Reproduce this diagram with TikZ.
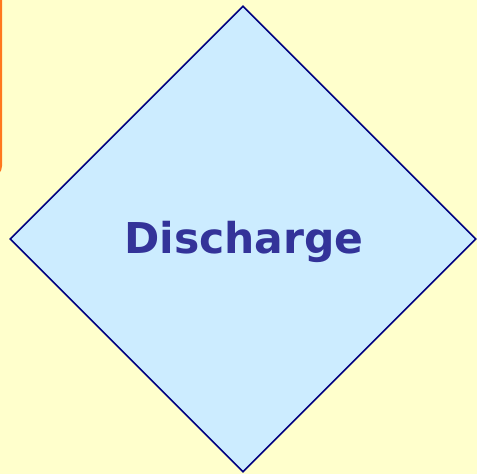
\documentclass[tikz,border=0pt]{standalone}
\usepackage{fontspec}
\setmainfont{DejaVu Sans}
\usetikzlibrary{shapes.geometric}
\definecolor{paper}{RGB}{255,255,204}
\definecolor{boxfill}{RGB}{204,236,255}
\definecolor{boxline}{RGB}{0,0,128}
\definecolor{textblue}{RGB}{51,51,153}
\definecolor{tabline}{RGB}{255,120,30}
\tikzset{
  decision/.style={diamond, draw=boxline, fill=boxfill, line width=1.6pt,
    inner sep=0pt, minimum width=466pt, minimum height=466pt,
    text=textblue, font=\fontsize{42.5}{50}\selectfont\bfseries}
}
\begin{document}
\begin{tikzpicture}[x=1pt,y=-1pt]
  \fill[paper] (0,0) rectangle (477,474);
  \useasboundingbox (0,0) rectangle (477,474);
  % edge of the box behind, on the left
  \draw[tabline, line width=2pt] (1,-5) -- (1,166) arc (0:90:10);
  \node[decision] (discharge) at (243,239) {};
  \node[text=textblue, font=\fontsize{42.5}{50}\selectfont\bfseries] (label) at (244,242) {Discharge};
\end{tikzpicture}
\end{document}
